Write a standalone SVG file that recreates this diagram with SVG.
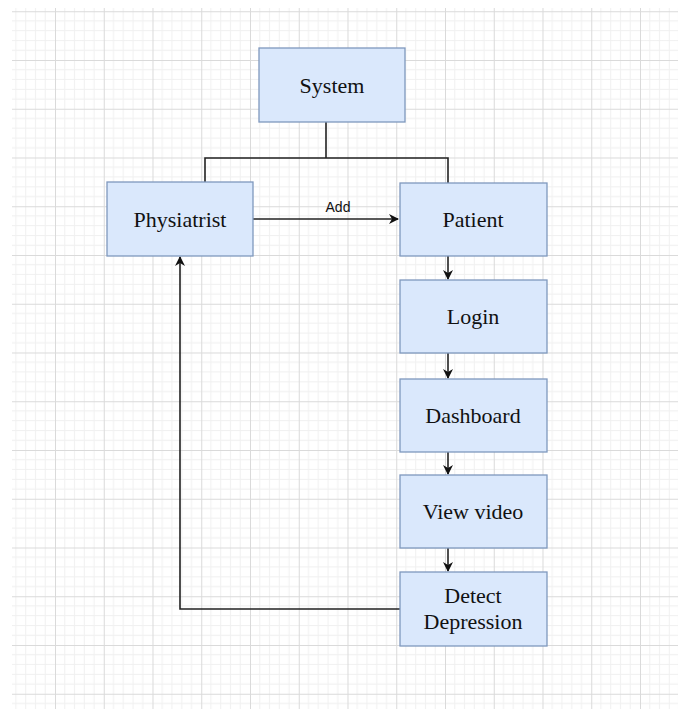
<svg xmlns="http://www.w3.org/2000/svg" width="678" height="709" viewBox="0 0 678 709">
<style>
.box{fill:#dae8fc;stroke:#7f98bd;stroke-width:1.3}
.lbl{font-family:"Liberation Serif","Times New Roman",serif;font-size:22px;fill:#111;text-anchor:middle}
.edge{fill:none;stroke:#222;stroke-width:1.6}
.elbl{font-family:"Liberation Sans",Arial,sans-serif;font-size:14px;fill:#111;text-anchor:middle}
</style>
<defs>
<pattern id="grid" patternUnits="userSpaceOnUse" x="6.25" y="11.25" width="48.75" height="48.75">
<path d="M9.75 0V48.75M19.5 0V48.75M29.25 0V48.75M39 0V48.75M0 9.75H48.75M0 19.5H48.75M0 29.25H48.75M0 39H48.75" stroke="#f0f0f0" stroke-width="1" fill="none"/>
<path d="M0.5 0V48.75M0 0.5H48.75" stroke="#dadada" stroke-width="1" fill="none"/>
</pattern>
<marker id="arr" viewBox="0 0 10 10" refX="9" refY="5" markerWidth="10" markerHeight="10" markerUnits="userSpaceOnUse" orient="auto">
<path d="M0 0L10 5L0 10L3 5Z" fill="#111"/>
</marker>
</defs>
<rect width="678" height="709" fill="#fff"/>
<rect x="12" y="8" width="666" height="701" fill="url(#grid)"/>
<g id="connectors">
<path class="edge" d="M326 122V158M205 182V158H448V183"/>
<path class="edge" d="M253 219H398" marker-end="url(#arr)"/>
<text class="elbl" x="338" y="212">Add</text>
<path class="edge" d="M448 256V279" marker-end="url(#arr)"/>
<path class="edge" d="M448 353V378" marker-end="url(#arr)"/>
<path class="edge" d="M448 452V474" marker-end="url(#arr)"/>
<path class="edge" d="M448 548V571" marker-end="url(#arr)"/>
<path class="edge" d="M400 609H180V257" marker-end="url(#arr)"/>
</g>
<g id="system"><rect class="box" x="259" y="48" width="146" height="74"/><text class="lbl" x="332" y="93">System</text></g>
<g id="physiatrist"><rect class="box" x="107" y="182" width="146" height="74"/><text class="lbl" x="180" y="227">Physiatrist</text></g>
<g id="patient"><rect class="box" x="400" y="183" width="147" height="73"/><text class="lbl" x="473" y="227">Patient</text></g>
<g id="login"><rect class="box" x="400" y="280" width="147" height="73"/><text class="lbl" x="473" y="324">Login</text></g>
<g id="dashboard"><rect class="box" x="400" y="379" width="147" height="73"/><text class="lbl" x="473" y="423">Dashboard</text></g>
<g id="viewvideo"><rect class="box" x="400" y="475" width="147" height="73"/><text class="lbl" x="473" y="519">View video</text></g>
<g id="detect"><rect class="box" x="400" y="572" width="147" height="74"/><text class="lbl" x="473" y="603">Detect</text><text class="lbl" x="473" y="629">Depression</text></g>
</svg>
